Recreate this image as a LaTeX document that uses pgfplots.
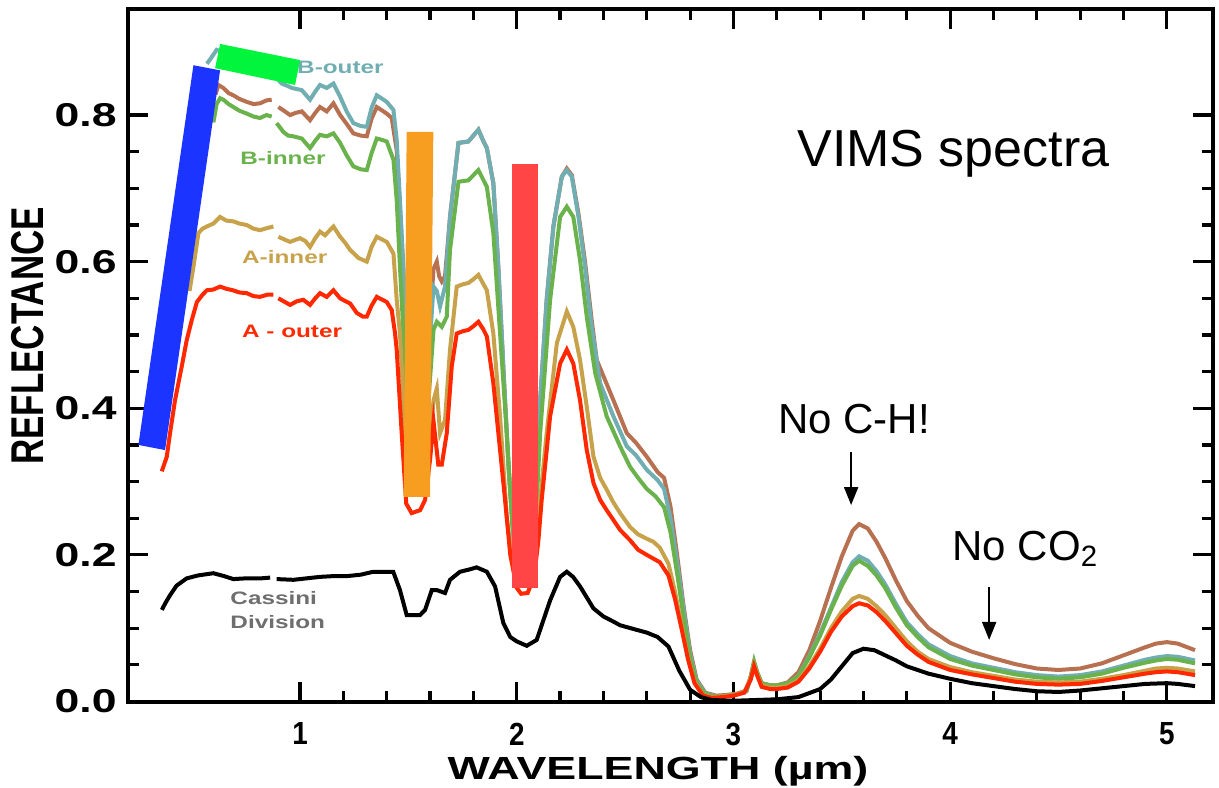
\documentclass[border=0pt]{standalone}
\usepackage{pgfplots}
\pgfplotsset{compat=1.18}
\usepackage{fontspec}
\usetikzlibrary{arrows.meta}
\setmainfont{Liberation Sans}
\newfontfamily\wide[FakeStretch=1.35]{Liberation Sans}
\newfontfamily\xlab[FakeStretch=1.4]{Liberation Sans}
\newfontfamily\narrow[FakeStretch=0.76]{Liberation Sans}
\newfontfamily\ticknarrow[FakeStretch=0.87]{Liberation Sans}
\definecolor{cteal}{RGB}{112,174,178}
\definecolor{cbrown}{RGB}{183,112,80}
\definecolor{cgreen}{RGB}{106,178,76}
\definecolor{ctan}{RGB}{200,162,74}
\definecolor{cred}{RGB}{255,40,0}
\definecolor{cblue}{RGB}{28,52,255}
\definecolor{cgrect}{RGB}{0,245,60}
\definecolor{corange}{RGB}{247,157,31}
\definecolor{credbar}{RGB}{255,69,69}
\definecolor{cgray}{RGB}{110,110,110}
\begin{document}
\begin{tikzpicture}
\begin{axis}[
  at={(0,0)}, anchor=south west,
  scale only axis, width=542.5pt, height=346.25pt,
  xmin=0.206, xmax=5.213, ymin=0, ymax=0.9447,
  clip=false, unbounded coords=jump,
  xtick={1,2,3,4,5}, minor x tick num=4,
  ytick={0,0.2,0.4,0.6,0.8}, minor y tick num=3,
  major tick length=10pt, minor tick length=5.5pt,
  axis line style={line width=2pt},
  every tick/.style={line width=1.6pt, black},
  /pgf/number format/assume math mode=true,
  yticklabel style={font=\wide\bfseries\fontsize{16.5}{16.5}\selectfont, inner sep=0pt, xshift=-5.5pt,
    /pgf/number format/.cd, fixed, fixed zerofill, precision=1},
  xticklabel style={font=\ticknarrow\bfseries\fontsize{16}{16}\selectfont, inner sep=0pt, yshift=-10.5pt},
]
% Brown
\addplot[cbrown, line width=2pt] coordinates {
(0.61,0.828)(0.623,0.841)(0.646,0.837)(0.67,0.83)(0.692,0.827)(0.72,0.822)(0.754,0.818)(0.785,0.815)(0.815,0.816)(0.845,0.82)(0.869,0.821)(0.885,nan)(0.90,0.811)(0.93,0.805)(0.954,0.80)(0.98,0.803)(1.008,0.805)(1.046,0.793)(1.07,0.803)(1.092,0.811)(1.123,0.805)(1.154,0.816)(1.185,0.80)(1.215,0.788)(1.246,0.775)(1.28,0.772)(1.308,0.771)(1.33,0.795)(1.354,0.811)(1.38,0.806)(1.40,0.802)(1.423,0.796)(1.446,0.752)(1.461,0.67)(1.477,0.58)(1.495,0.45)(1.52,0.31)(1.56,0.31)(1.59,0.48)(1.616,0.59)(1.631,0.60)(1.642,0.58)(1.654,0.573)(1.669,0.58)(1.692,0.661)(1.731,0.762)(1.777,0.764)(1.80,0.772)(1.823,0.78)(1.845,0.765)(1.862,0.755)(1.892,0.707)(1.915,0.593)(1.938,0.457)(1.962,0.32)(1.99,0.2)(2.03,0.175)(2.07,0.185)(2.09,0.28)(2.108,0.411)(2.138,0.548)(2.169,0.648)(2.208,0.716)(2.231,0.727)(2.254,0.718)(2.285,0.665)(2.315,0.6)(2.346,0.52)(2.369,0.466)(2.446,0.411)(2.508,0.366)(2.55,0.353)(2.6,0.334)(2.65,0.313)(2.68,0.305)(2.71,0.265)(2.74,0.2)(2.77,0.13)(2.8,0.07)(2.83,0.03)(2.87,0.012)(2.92,0.008)(2.97,0.009)(3.02,0.011)(3.06,0.015)(3.08,0.034)(3.095,0.052)(3.11,0.038)(3.13,0.025)(3.17,0.022)(3.2,0.022)(3.25,0.026)(3.3,0.04)(3.35,0.07)(3.4,0.11)(3.45,0.155)(3.5,0.198)(3.55,0.233)(3.58,0.242)(3.62,0.236)(3.66,0.218)(3.7,0.196)(3.75,0.165)(3.8,0.137)(3.85,0.117)(3.9,0.1)(4.0,0.08)(4.1,0.068)(4.2,0.059)(4.3,0.051)(4.4,0.045)(4.5,0.043)(4.6,0.045)(4.7,0.052)(4.8,0.063)(4.9,0.074)(4.95,0.079)(5.0,0.081)(5.05,0.079)(5.13,0.07)
};
% Teal (B-outer)
\addplot[cteal, line width=2pt] coordinates {
(0.57,0.87)(0.59,0.878)(0.615,0.889)(0.65,0.885)(0.7,0.878)(0.75,0.87)(0.8,0.865)(0.85,0.86)(0.88,0.855)(0.89,nan)(0.9,0.848)(0.915,0.843)(0.94,0.84)(0.962,0.837)(1.008,0.834)(1.046,0.821)(1.07,0.832)(1.092,0.841)(1.123,0.837)(1.154,0.843)(1.185,0.825)(1.215,0.805)(1.246,0.789)(1.28,0.785)(1.308,0.784)(1.33,0.81)(1.354,0.827)(1.38,0.822)(1.40,0.818)(1.431,0.807)(1.446,0.766)(1.461,0.684)(1.477,0.593)(1.495,0.45)(1.52,0.31)(1.56,0.31)(1.59,0.45)(1.616,0.566)(1.631,0.56)(1.646,0.539)(1.669,0.566)(1.692,0.661)(1.731,0.762)(1.777,0.764)(1.80,0.772)(1.823,0.78)(1.845,0.765)(1.862,0.755)(1.892,0.707)(1.915,0.593)(1.938,0.457)(1.962,0.32)(1.99,0.2)(2.03,0.175)(2.07,0.185)(2.09,0.28)(2.108,0.411)(2.138,0.548)(2.169,0.648)(2.208,0.716)(2.231,0.725)(2.254,0.716)(2.285,0.661)(2.315,0.593)(2.346,0.511)(2.385,0.434)(2.446,0.389)(2.508,0.348)(2.55,0.336)(2.6,0.316)(2.65,0.302)(2.68,0.29)(2.71,0.25)(2.74,0.19)(2.77,0.125)(2.8,0.065)(2.83,0.028)(2.87,0.011)(2.92,0.007)(2.97,0.008)(3.02,0.01)(3.06,0.014)(3.08,0.033)(3.095,0.052)(3.11,0.038)(3.13,0.024)(3.17,0.021)(3.2,0.021)(3.25,0.024)(3.3,0.035)(3.35,0.062)(3.4,0.093)(3.45,0.128)(3.5,0.163)(3.55,0.19)(3.58,0.198)(3.62,0.192)(3.66,0.178)(3.7,0.16)(3.75,0.133)(3.8,0.108)(3.85,0.092)(3.9,0.078)(4.0,0.062)(4.1,0.052)(4.2,0.046)(4.3,0.04)(4.4,0.036)(4.5,0.034)(4.6,0.036)(4.7,0.041)(4.8,0.049)(4.9,0.057)(4.95,0.06)(5.0,0.062)(5.05,0.061)(5.13,0.056)
};
% Green (B-inner)
\addplot[cgreen, line width=2pt] coordinates {
(0.6,0.79)(0.615,0.815)(0.631,0.823)(0.646,0.821)(0.67,0.815)(0.692,0.811)(0.72,0.806)(0.754,0.802)(0.785,0.798)(0.815,0.796)(0.845,0.8)(0.869,0.798)(0.88,nan)(0.892,0.789)(0.923,0.777)(0.945,0.772)(0.969,0.771)(1.008,0.768)(1.046,0.755)(1.07,0.765)(1.092,0.773)(1.123,0.771)(1.154,0.775)(1.185,0.762)(1.215,0.745)(1.246,0.73)(1.28,0.726)(1.308,0.725)(1.33,0.748)(1.354,0.768)(1.38,0.766)(1.40,0.764)(1.431,0.739)(1.446,0.684)(1.461,0.593)(1.477,0.502)(1.495,0.38)(1.52,0.3)(1.56,0.3)(1.59,0.4)(1.616,0.507)(1.631,0.518)(1.654,0.511)(1.677,0.525)(1.692,0.616)(1.731,0.709)(1.777,0.711)(1.80,0.718)(1.823,0.725)(1.845,0.712)(1.862,0.702)(1.892,0.639)(1.923,0.502)(1.954,0.366)(1.98,0.24)(2.02,0.17)(2.06,0.175)(2.09,0.26)(2.108,0.366)(2.154,0.548)(2.2,0.661)(2.231,0.675)(2.261,0.661)(2.292,0.602)(2.323,0.525)(2.362,0.448)(2.415,0.389)(2.477,0.348)(2.523,0.32)(2.56,0.305)(2.6,0.29)(2.64,0.28)(2.68,0.265)(2.71,0.23)(2.74,0.175)(2.77,0.115)(2.8,0.06)(2.83,0.025)(2.87,0.01)(2.92,0.007)(2.97,0.008)(3.02,0.01)(3.06,0.015)(3.08,0.035)(3.095,0.055)(3.11,0.04)(3.13,0.025)(3.17,0.022)(3.2,0.022)(3.25,0.025)(3.3,0.035)(3.35,0.06)(3.4,0.09)(3.45,0.125)(3.5,0.158)(3.55,0.185)(3.58,0.192)(3.62,0.185)(3.66,0.172)(3.7,0.155)(3.75,0.128)(3.8,0.104)(3.85,0.088)(3.9,0.074)(4.0,0.058)(4.1,0.049)(4.2,0.043)(4.3,0.037)(4.4,0.033)(4.5,0.031)(4.6,0.033)(4.7,0.038)(4.8,0.046)(4.9,0.053)(4.95,0.056)(5.0,0.058)(5.05,0.057)(5.13,0.052)
};
% Tan (A-inner)
\addplot[ctan, line width=2pt] coordinates {
(0.49,0.56)(0.508,0.593)(0.531,0.639)(0.55,0.645)(0.57,0.648)(0.6,0.652)(0.631,0.661)(0.66,0.656)(0.692,0.655)(0.72,0.652)(0.754,0.65)(0.785,0.645)(0.815,0.643)(0.85,0.646)(0.877,0.648)(0.888,nan)(0.90,0.634)(0.93,0.63)(0.954,0.627)(0.98,0.63)(1.0,0.632)(1.025,0.628)(1.046,0.62)(1.07,0.632)(1.092,0.641)(1.115,0.636)(1.154,0.648)(1.185,0.634)(1.21,0.625)(1.231,0.616)(1.27,0.605)(1.308,0.60)(1.33,0.62)(1.354,0.634)(1.38,0.63)(1.40,0.627)(1.431,0.611)(1.446,0.548)(1.461,0.502)(1.485,0.366)(1.5,0.3)(1.53,0.285)(1.57,0.29)(1.6,0.36)(1.616,0.411)(1.631,0.427)(1.646,0.366)(1.669,0.384)(1.692,0.48)(1.723,0.566)(1.75,0.569)(1.777,0.571)(1.80,0.576)(1.823,0.582)(1.845,0.57)(1.862,0.561)(1.892,0.502)(1.923,0.389)(1.954,0.252)(1.98,0.19)(2.02,0.158)(2.06,0.162)(2.09,0.2)(2.108,0.275)(2.138,0.366)(2.185,0.489)(2.231,0.532)(2.261,0.511)(2.292,0.466)(2.323,0.402)(2.354,0.334)(2.385,0.305)(2.415,0.289)(2.445,0.272)(2.477,0.257)(2.523,0.238)(2.56,0.228)(2.6,0.222)(2.63,0.218)(2.66,0.21)(2.7,0.188)(2.73,0.15)(2.76,0.105)(2.79,0.06)(2.82,0.027)(2.86,0.009)(2.9,0.006)(2.95,0.007)(3.0,0.009)(3.05,0.013)(3.08,0.032)(3.095,0.05)(3.11,0.037)(3.13,0.022)(3.17,0.019)(3.2,0.019)(3.25,0.021)(3.3,0.029)(3.35,0.048)(3.4,0.072)(3.45,0.1)(3.5,0.123)(3.55,0.14)(3.58,0.144)(3.62,0.14)(3.66,0.13)(3.7,0.118)(3.75,0.1)(3.8,0.082)(3.85,0.068)(3.9,0.058)(4.0,0.047)(4.1,0.04)(4.2,0.035)(4.3,0.03)(4.4,0.027)(4.5,0.026)(4.6,0.027)(4.7,0.031)(4.8,0.036)(4.9,0.042)(4.95,0.045)(5.0,0.046)(5.05,0.045)(5.13,0.041)
};
% Red (A-outer)
\addplot[cred, line width=2pt] coordinates {
(0.362,0.314)(0.385,0.334)(0.40,0.366)(0.423,0.411)(0.454,0.457)(0.477,0.493)(0.50,0.52)(0.524,0.545)(0.55,0.555)(0.57,0.561)(0.6,0.562)(0.631,0.566)(0.66,0.563)(0.69,0.561)(0.72,0.558)(0.754,0.557)(0.785,0.553)(0.815,0.552)(0.85,0.555)(0.877,0.555)(0.888,nan)(0.90,0.55)(0.93,0.545)(0.954,0.541)(0.985,0.546)(1.015,0.548)(1.046,0.541)(1.07,0.55)(1.092,0.557)(1.123,0.552)(1.154,0.561)(1.185,0.55)(1.21,0.546)(1.231,0.543)(1.262,0.53)(1.29,0.525)(1.308,0.525)(1.33,0.54)(1.354,0.552)(1.38,0.548)(1.40,0.545)(1.423,0.534)(1.438,0.503)(1.446,0.48)(1.469,0.366)(1.49,0.27)(1.515,0.257)(1.554,0.261)(1.577,0.275)(1.60,0.33)(1.616,0.382)(1.638,0.323)(1.654,0.323)(1.677,0.366)(1.70,0.457)(1.723,0.502)(1.75,0.505)(1.777,0.507)(1.80,0.512)(1.823,0.518)(1.845,0.508)(1.862,0.498)(1.892,0.434)(1.923,0.343)(1.946,0.275)(1.97,0.2)(2.0,0.155)(2.02,0.147)(2.05,0.148)(2.08,0.17)(2.1,0.22)(2.115,0.275)(2.154,0.389)(2.2,0.461)(2.231,0.48)(2.261,0.461)(2.292,0.411)(2.323,0.343)(2.354,0.298)(2.385,0.275)(2.415,0.261)(2.445,0.248)(2.477,0.234)(2.523,0.22)(2.56,0.207)(2.6,0.2)(2.63,0.195)(2.66,0.19)(2.7,0.172)(2.73,0.14)(2.76,0.1)(2.79,0.058)(2.82,0.025)(2.86,0.008)(2.9,0.005)(2.95,0.006)(3.0,0.008)(3.05,0.012)(3.08,0.03)(3.095,0.048)(3.11,0.035)(3.13,0.02)(3.17,0.017)(3.2,0.017)(3.25,0.019)(3.3,0.027)(3.35,0.045)(3.4,0.068)(3.45,0.095)(3.5,0.116)(3.55,0.13)(3.58,0.134)(3.62,0.131)(3.66,0.122)(3.7,0.11)(3.75,0.093)(3.8,0.076)(3.85,0.064)(3.9,0.054)(4.0,0.043)(4.1,0.037)(4.2,0.032)(4.3,0.027)(4.4,0.024)(4.5,0.023)(4.6,0.024)(4.7,0.028)(4.8,0.033)(4.9,0.038)(4.95,0.04)(5.0,0.041)(5.05,0.04)(5.13,0.036)
};
% Black (Cassini Division)
\addplot[black, line width=2pt] coordinates {
(0.362,0.125)(0.38,0.135)(0.40,0.145)(0.43,0.158)(0.477,0.168)(0.53,0.172)(0.60,0.175)(0.65,0.171)(0.692,0.167)(0.75,0.168)(0.82,0.168)(0.862,0.169)(0.877,nan)(0.892,0.167)(0.969,0.166)(1.03,0.168)(1.092,0.17)(1.15,0.171)(1.215,0.171)(1.28,0.173)(1.338,0.177)(1.43,0.177)(1.461,0.152)(1.492,0.118)(1.554,0.118)(1.577,0.125)(1.608,0.152)(1.631,0.152)(1.669,0.148)(1.692,0.166)(1.738,0.177)(1.78,0.18)(1.815,0.183)(1.862,0.177)(1.90,0.157)(1.938,0.107)(1.97,0.088)(2.0,0.082)(2.046,0.076)(2.092,0.084)(2.154,0.138)(2.2,0.17)(2.231,0.177)(2.26,0.17)(2.292,0.157)(2.354,0.127)(2.4,0.116)(2.446,0.109)(2.477,0.104)(2.55,0.098)(2.6,0.094)(2.65,0.088)(2.7,0.075)(2.75,0.042)(2.8,0.016)(2.85,0.006)(2.9,0.002)(3.0,0.001)(3.1,0.002)(3.2,0.003)(3.3,0.006)(3.4,0.017)(3.45,0.03)(3.5,0.048)(3.55,0.066)(3.6,0.072)(3.65,0.07)(3.7,0.063)(3.75,0.056)(3.8,0.048)(3.9,0.038)(4.0,0.031)(4.1,0.025)(4.2,0.021)(4.3,0.017)(4.4,0.014)(4.5,0.013)(4.6,0.015)(4.7,0.018)(4.8,0.021)(4.9,0.024)(5.0,0.025)(5.05,0.024)(5.13,0.021)
};
% series labels
\node[anchor=base west, inner sep=0pt, text=cteal, font=\wide\bfseries\fontsize{9}{9}\selectfont] at (axis cs:0.985,0.857) {B-outer};
\node[anchor=base west, inner sep=0pt, text=cgreen, font=\wide\bfseries\fontsize{9}{9}\selectfont] at (axis cs:0.723,0.733) {B-inner};
\node[anchor=base west, inner sep=0pt, text=ctan, font=\wide\bfseries\fontsize{9}{9}\selectfont] at (axis cs:0.731,0.597) {A-inner};
\node[anchor=base west, inner sep=0pt, text=cred, font=\wide\bfseries\fontsize{9}{9}\selectfont] at (axis cs:0.731,0.496) {A - outer};
\node[anchor=base west, inner sep=0pt, text=cgray, font=\wide\bfseries\fontsize{9}{9}\selectfont] at (axis cs:0.677,0.133) {Cassini};
\node[anchor=base west, inner sep=0pt, text=cgray, font=\wide\bfseries\fontsize{9}{9}\selectfont] at (axis cs:0.677,0.100) {Division};
% coloured band markers
\addplot[draw=none, fill=cblue] coordinates {(0.254,0.35)(0.377,0.343)(0.631,0.861)(0.508,0.868)} --cycle;
\addplot[draw=none, fill=cgrect] coordinates {(0.631,0.897)(1.0,0.875)(0.977,0.841)(0.608,0.864)} --cycle;
\addplot[draw=none, fill=corange] coordinates {(1.492,0.777)(1.615,0.777)(1.600,0.279)(1.478,0.279)} --cycle;
\addplot[draw=none, fill=credbar] coordinates {(1.977,0.733)(2.100,0.733)(2.100,0.155)(1.977,0.155)} --cycle;
% annotations
\node[anchor=base west, inner sep=0pt, font=\fontsize{26}{26}\selectfont] at (axis cs:3.293,0.7296) {VIMS spectra};
\node[anchor=base, inner sep=0pt, font=\fontsize{21}{21}\selectfont] at (axis cs:3.557,0.365) {No C-H!};
\node[anchor=base west, inner sep=0pt, font=\fontsize{21}{21}\selectfont] at (axis cs:4.009,0.193) {No CO\textsubscript{2}};
\draw[-{Triangle[length=9pt,width=7pt]}, line width=1pt] (axis cs:3.543,0.34) -- (axis cs:3.543,0.268);
\draw[-{Triangle[length=9pt,width=7pt]}, line width=1pt] (axis cs:4.18,0.156) -- (axis cs:4.18,0.084);
\end{axis}
% axis labels (axis box south-west corner is at the origin)
\node[anchor=base, inner sep=0pt, font=\xlab\bfseries\fontsize{16}{16}\selectfont] at (265pt,-39.2pt) {WAVELENGTH (µm)};
\node[anchor=base, inner sep=0pt, rotate=90, font=\narrow\bfseries\fontsize{23}{23}\selectfont] at (-42.5pt,182.75pt) {REFLECTANCE};
\pgfresetboundingbox
\path[use as bounding box] (-64pt,-42.75pt) rectangle (545.5pt,350.75pt);
\end{tikzpicture}
\end{document}
